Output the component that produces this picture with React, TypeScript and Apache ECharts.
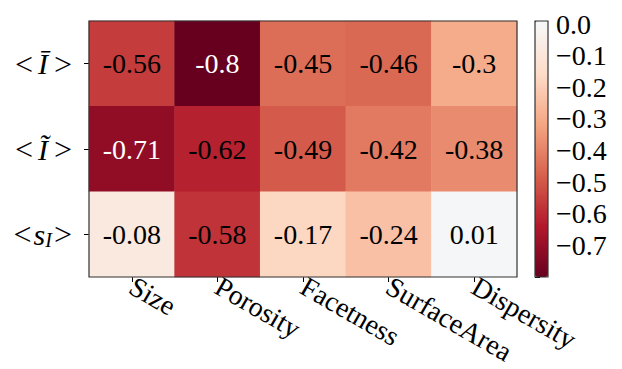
import React, { useEffect, useRef } from "react";
import * as echarts from "echarts";

const xCategories = ["Size", "Porosity", "Facetness", "SurfaceArea", "Dispersity"];
const yCategories = ["bar", "tilde", "s"]; // top to bottom
const rowBar = [-0.56, -0.8, -0.45, -0.46, -0.3];
const rowTilde = [-0.71, -0.62, -0.49, -0.42, -0.38];
const rowS = [-0.08, -0.58, -0.17, -0.24, 0.01];
const vMin = -0.8;
const vMax = 0.01;
const whiteTextValues = [-0.8, -0.71];

// RdBu anchors (matplotlib / ColorBrewer)
const rdbu = [
  [103, 0, 31], [178, 24, 43], [214, 96, 77], [244, 165, 130], [253, 219, 199],
  [247, 247, 247], [209, 229, 240], [146, 197, 222], [67, 147, 195], [33, 102, 172], [5, 48, 97],
];
function rdbuAt(t: number): string {
  const x = Math.max(0, Math.min(1, t)) * 10;
  const i = Math.min(9, Math.floor(x));
  const f = x - i;
  const a = rdbu[i], b = rdbu[i + 1];
  const c = a.map((v, k) => Math.round(v + (b[k] - v) * f));
  return `rgb(${c[0]},${c[1]},${c[2]})`;
}
const colorStops: string[] = [];
for (let k = 0; k <= 81; k++) {
  const v = vMin + (k / 81) * (vMax - vMin);
  colorStops.push(rdbuAt((v + 0.8) / 1.6));
}

const FONT = "'Liberation Serif', 'Times New Roman', serif";

export default function App() {
  const ref = useRef<HTMLDivElement>(null);
  useEffect(() => {
    const chart = echarts.init(ref.current!, null, { renderer: "svg" });
    const rows = [rowBar, rowTilde, rowS];
    const data: any[] = [];
    rows.forEach((row, yi) =>
      row.forEach((v, xi) =>
        data.push({
          value: [xi, yi, v],
          label: { color: whiteTextValues.includes(v) ? "#fff" : "#000" },
        })
      )
    );
    chart.setOption({
      animation: false,
      grid: [
        { left: 89, top: 21, width: 428, height: 256, outerBoundsMode: "none", containLabel: false },
        { left: 535, top: 21, width: 13, height: 256, outerBoundsMode: "none", containLabel: false },
      ],
      xAxis: [
        {
          type: "category",
          data: xCategories,
          gridIndex: 0,
          axisLine: { show: false },
          axisTick: { show: true, alignWithLabel: true, length: 5, lineStyle: { color: "#000" } },
          axisLabel: {
            rotate: -30,
            margin: 7,
            fontSize: 28,
            lineHeight: 26,
            fontFamily: FONT,
            color: "#000",
            interval: 0,
          },
          splitLine: { show: false },
        },
        { type: "value", gridIndex: 1, show: false, min: 0, max: 1 },
      ],
      yAxis: [
        {
          type: "category",
          data: yCategories,
          inverse: true,
          gridIndex: 0,
          axisLine: { show: false },
          axisTick: { show: true, alignWithLabel: true, length: 5, lineStyle: { color: "#000" } },
          axisLabel: {
            margin: 17,
            color: "#000",
            formatter: (v: string) => {
              if (v === "bar") return "{n|<}{i|Ī}{n|>}";
              if (v === "tilde") return "{n|<}{i|Ĩ}{n|>}";
              return "{n|<}{s|s}{sub|I}{n|>}";
            },
            rich: {
              n: { fontSize: 32, fontFamily: FONT, color: "#000" },
              i: { fontSize: 30, fontFamily: FONT, fontStyle: "italic", color: "#000", padding: [0, 6, 0, 5] },
              s: { fontSize: 30, fontFamily: FONT, fontStyle: "italic", color: "#000", padding: [0, 0, 0, 2] },
              sub: { fontSize: 20, fontFamily: FONT, fontStyle: "italic", color: "#000", padding: [12, 2, 0, 0] },
            },
          },
        },
        {
          type: "value",
          gridIndex: 1,
          min: vMin,
          max: vMax,
          interval: 0.1,
          position: "right",
          axisLine: { show: false },
          splitLine: { show: false },
          axisTick: { show: true, length: 5, lineStyle: { color: "#000" } },
          axisLabel: {
            margin: 8,
            fontSize: 28,
            fontFamily: FONT,
            color: "#000",
            formatter: (v: number) => {
              const r = Math.round(v * 100) / 100;
              if (Math.abs(r - vMax) < 1e-6 || Math.abs(r - vMin) < 1e-6) return "";
              if (r === 0) return "0.0";
              return "\u2212" + Math.abs(r).toFixed(1);
            },
          },
        },
      ],
      visualMap: {
        type: "continuous",
        min: vMin,
        max: vMax,
        seriesIndex: 0,
        dimension: 2,
        calculable: false,
        left: 535,
        top: 21,
        itemWidth: 13,
        itemHeight: 256,
        padding: 0,
        inRange: { color: colorStops },
        hoverLink: false,
      },
      series: [
        {
          type: "heatmap",
          xAxisIndex: 0,
          yAxisIndex: 0,
          data,
          label: {
            show: true,
            fontSize: 28,
            fontFamily: FONT,
            formatter: (p: any) => String(p.value[2]),
          },
          itemStyle: { borderWidth: 0 },
        },
      ],
      graphic: [
        {
          type: "rect",
          z: 100,
          shape: { x: 89, y: 21, width: 428, height: 256 },
          style: { fill: "none", stroke: "#333", lineWidth: 1.2 },
        },
        {
          type: "rect",
          z: 100,
          shape: { x: 535, y: 21, width: 13, height: 256 },
          style: { fill: "none", stroke: "#333", lineWidth: 1.2 },
        },
      ],
    });
    return () => chart.dispose();
  }, []);
  return (
    <div
      ref={ref}
      style={{ position: "fixed", left: 0, top: 0, width: 622, height: 369, background: "#fff" }}
    />
  );
}
